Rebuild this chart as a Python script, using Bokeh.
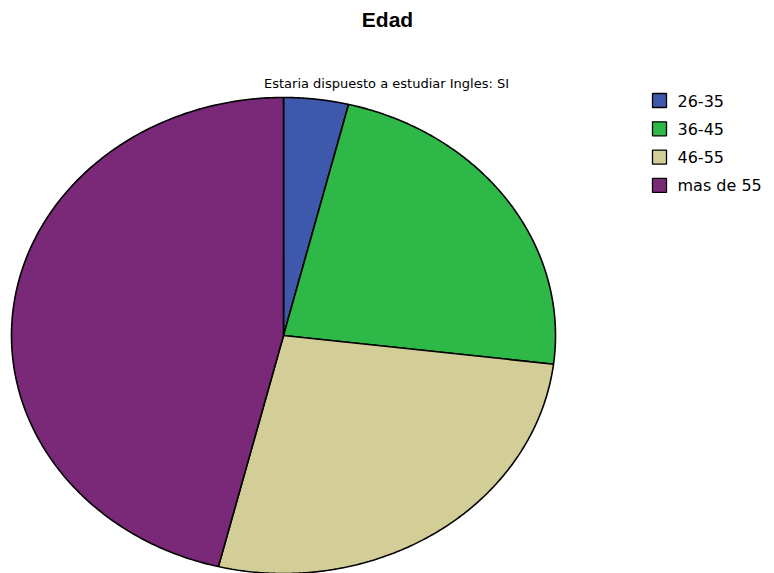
import numpy as np
from bokeh.plotting import figure
from bokeh.models import Range1d, ColumnDataSource
from bokeh.core.properties import value
from bokeh.embed import file_html
from bokeh.resources import INLINE

# Data
categories = ["26-35", "36-45", "46-55", "mas de 55"]
counts = [1, 6, 7, 12]
colors = ["#3E58AC", "#2EB848", "#D3CE97", "#7A2878"]
title = "Edad"
subtitle = "Estaria dispuesto a estudiar Ingles: SI"

# Layout (pixel coordinates of the page)
W, H = 774, 573
CX, CY, RX, RY = 283, 335, 272, 238

p = figure(width=W, height=H, output_backend="svg", toolbar_location=None,
           x_range=Range1d(0, W), y_range=Range1d(H, 0),
           min_border=0)
p.axis.visible = False
p.grid.visible = False
p.outline_line_color = None
p.background_fill_color = "white"
p.border_fill_color = "white"

total = sum(counts)
frac = np.array(counts, dtype=float) / total
cum = np.concatenate([[0], np.cumsum(frac)])

xs, ys = [], []
for i in range(len(counts)):
    t = np.linspace(cum[i], cum[i + 1], 200) * 2 * np.pi
    px = np.concatenate([[CX], CX + RX * np.sin(t), [CX]])
    py = np.concatenate([[CY], CY - RY * np.cos(t), [CY]])
    xs.append(px.tolist())
    ys.append(py.tolist())

src = ColumnDataSource(dict(xs=xs, ys=ys, color=colors, label=categories))
p.patches("xs", "ys", source=src, fill_color="color", line_color="black", line_width=1.6)

# Title / subtitle
p.text(x=[387], y=[19], text=[title], text_font=value("Liberation Sans"),
       text_font_style="bold", text_font_size="21px", text_align="center",
       text_baseline="middle", text_color="black")
p.text(x=[386], y=[83], text=[subtitle], text_font=value("DejaVu Sans"),
       text_font_size="13px", text_align="center",
       text_baseline="middle", text_color="black")

# Legend
ly = [100 + 28.3 * i for i in range(len(categories))]
p.rect(x=[659] * len(categories), y=ly, width=14, height=14,
       fill_color=colors, line_color="black", line_width=1.3)
p.text(x=[677] * len(categories), y=ly, text=categories,
       text_font=value("DejaVu Sans"), text_font_size="16px",
       text_baseline="middle", text_color="black")

open("out.html", "w").write(file_html(p, INLINE))
